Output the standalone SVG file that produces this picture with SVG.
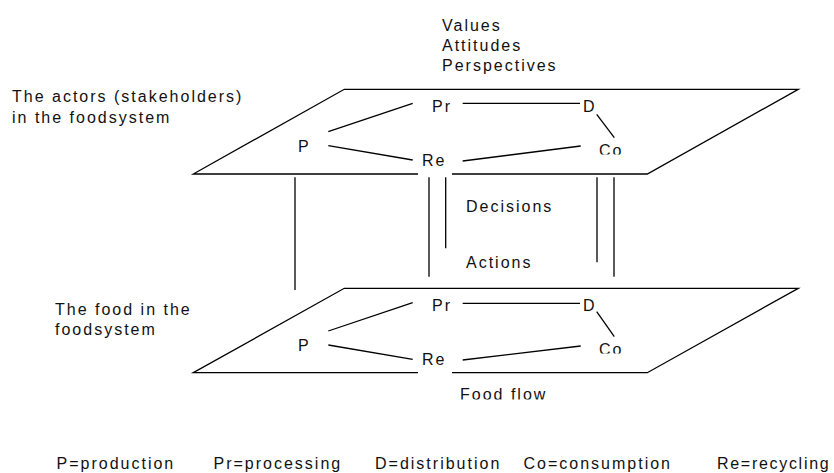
<svg xmlns="http://www.w3.org/2000/svg" width="834" height="473" viewBox="0 0 834 473">
<style>
text { font-family: "Liberation Sans", Arial, sans-serif; font-size: 16px; letter-spacing: 2px; fill: #111; }
.ln { stroke: #000; stroke-width: 1.3; fill: none; }
</style>
<defs>
<clipPath id="clipCoTop"><rect x="590" y="130" width="40" height="24.5"/></clipPath>
<clipPath id="clipCoBot"><rect x="590" y="330" width="40" height="23.5"/></clipPath>
<clipPath id="clipFood"><rect x="450" y="380" width="120" height="19.5"/></clipPath>
</defs>
<rect width="834" height="473" fill="#fff"/>

<g id="labels-top">
<text x="442" y="31">Values</text>
<text x="442" y="51">Attitudes</text>
<text x="442" y="71">Perspectives</text>
</g>
<g id="label-actors">
<text x="12" y="102">The actors (stakeholders)</text>
<text x="12" y="123">in the foodsystem</text>
</g>
<g id="label-food">
<text x="55" y="315">The food in the</text>
<text x="55" y="335">foodsystem</text>
</g>

<g id="plane-actors">
<path class="ln" d="M418,174 H193.3 L344.3,89.3 H798.3 L647.3,174 H452"/>
</g>
<g id="plane-food">
<path class="ln" d="M418,372.7 H193.3 L344.3,288.3 H798.3 L647.3,372.7 H452"/>
</g>

<g id="actors-P"><text x="298" y="152">P</text></g>
<g id="actors-Pr"><text x="432" y="112">Pr</text></g>
<g id="actors-D"><text x="583" y="112">D</text></g>
<g id="actors-Co"><text x="599" y="155.5" clip-path="url(#clipCoTop)">Co</text></g>
<g id="actors-Re"><text x="422" y="166">Re</text></g>

<g id="food-P"><text x="298" y="351">P</text></g>
<g id="food-Pr"><text x="432" y="311">Pr</text></g>
<g id="food-D"><text x="583" y="311">D</text></g>
<g id="food-Co"><text x="599" y="354.5" clip-path="url(#clipCoBot)">Co</text></g>
<g id="food-Re"><text x="422" y="365">Re</text></g>

<g id="mid-labels">
<text x="466" y="212">Decisions</text>
<text x="466" y="268">Actions</text>
<text x="460" y="400" clip-path="url(#clipFood)">Food flow</text>
</g>

<g id="connectors">
<line class="ln" x1="328.3" y1="131.7" x2="412.7" y2="103.3"/>
<line class="ln" x1="462.7" y1="103.3" x2="580" y2="103.3"/>
<line class="ln" x1="596.7" y1="114.3" x2="614.3" y2="137.7"/>
<line class="ln" x1="328.3" y1="145.7" x2="412.7" y2="160"/>
<line class="ln" x1="462.7" y1="161" x2="580.7" y2="146"/>

<line class="ln" x1="328.3" y1="331" x2="412.7" y2="302.7"/>
<line class="ln" x1="462.7" y1="303.3" x2="580" y2="303.3"/>
<line class="ln" x1="596.7" y1="311.7" x2="614.3" y2="336.7"/>
<line class="ln" x1="328.3" y1="345" x2="412.7" y2="359.3"/>
<line class="ln" x1="462.7" y1="360" x2="580.7" y2="346"/>

<line class="ln" x1="295" y1="177.3" x2="295" y2="290"/>
<line class="ln" x1="429" y1="177.3" x2="429" y2="276.7"/>
<line class="ln" x1="445.7" y1="177.3" x2="445.7" y2="248.3"/>
<line class="ln" x1="597" y1="177.3" x2="597" y2="262.3"/>
<line class="ln" x1="614" y1="177.3" x2="614" y2="276.7"/>
</g>

<g id="legend">
<text x="56.5" y="469">P=production</text>
<text x="213.5" y="469">Pr=processing</text>
<text x="375" y="469">D=distribution</text>
<text x="523.5" y="469">Co=consumption</text>
<text x="717" y="469" style="letter-spacing:1.7px">Re=recycling</text>
</g>
</svg>
